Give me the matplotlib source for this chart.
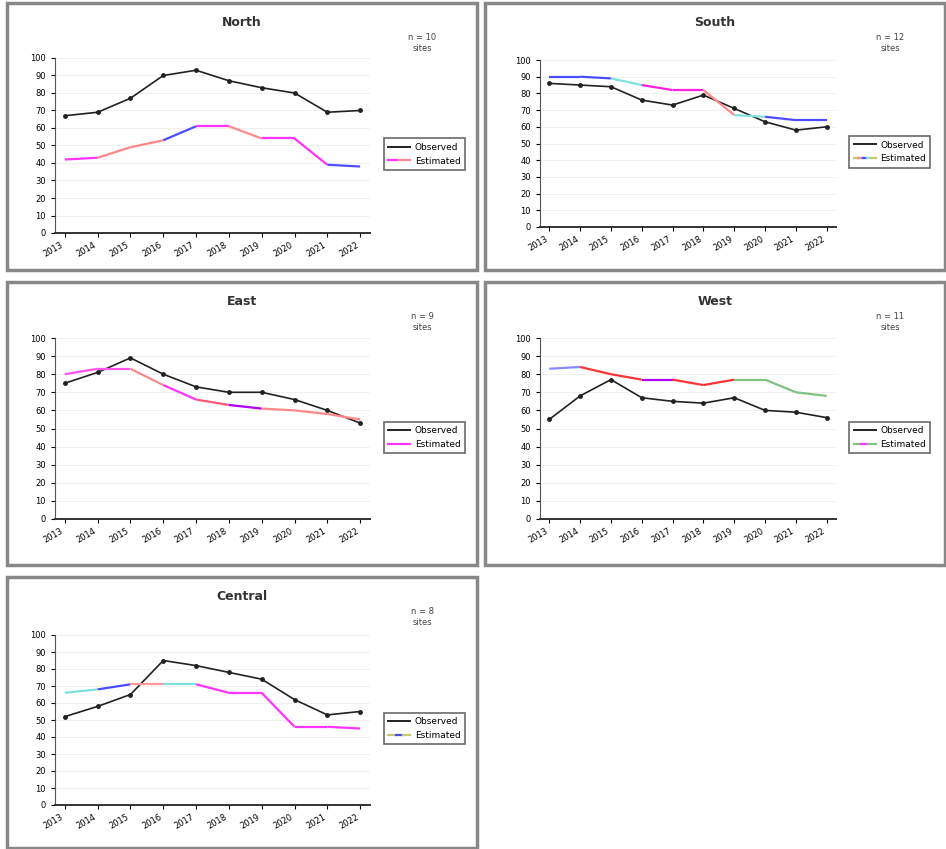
import numpy as np
import matplotlib
matplotlib.use("Agg")
import matplotlib.pyplot as plt
from matplotlib.lines import Line2D
from matplotlib.patches import Rectangle
from matplotlib.collections import LineCollection
from matplotlib.legend_handler import HandlerTuple

# ==============================
# DATA
# ==============================
x_labels = ["2013", "2014", "2015", "2016", "2017", "2018", "2019", "2020", "2021", "2022"]

titles = ["North", "South", "East", "West", "Central"]
notes = ["n = 10\nsites", "n = 12\nsites", "n = 9\nsites", "n = 11\nsites", "n = 8\nsites"]

black_1 = [67, 69, 77, 90, 93, 87, 83, 80, 69, 70]
black_2 = [86, 85, 84, 76, 73, 79, 71, 63, 58, 60]
black_3 = [75, 81, 89, 80, 73, 70, 70, 66, 60, 53]
black_4 = [55, 68, 77, 67, 65, 64, 67, 60, 59, 56]
black_5 = [52, 58, 65, 85, 82, 78, 74, 62, 53, 55]

color_1 = [42, 43, 49, 53, 61, 61, 54, 54, 39, 38]
color_2 = [90, 90, 89, 85, 82, 82, 67, 66, 64, 64]
color_3 = [80, 83, 83, 74, 66, 63, 61, 60, 58, 55]
color_4 = [83, 84, 80, 77, 77, 74, 77, 77, 70, 68]
color_5 = [66, 68, 71, 71, 71, 66, 66, 46, 46, 45]

# segment colours of the coloured series (one per segment)
seg_1 = ["#ff33ff", "#ff8888", "#ff8888", "#4d4dff", "#ff33ff", "#ff8888", "#ff33ff", "#ff33ff", "#4d4dff"]
seg_2 = ["#4d4dff", "#4d4dff", "#80e0e0", "#ff22dd", "#ff22dd", "#ff8888", "#80e0e0", "#4d4dff", "#4d4dff"]
seg_3 = ["#ff55ee", "#ff55ee", "#ff8888", "#ff33ff", "#ff5577", "#b000ff", "#ff8888", "#ff8888", "#ff8888"]
seg_4 = ["#8888ff", "#ff3333", "#ff3333", "#b000ff", "#ff3333", "#ff3333", "#80c080", "#80c080", "#80c080"]
seg_5 = ["#80e0e0", "#4d4dff", "#ff9999", "#80e0e0", "#ff33ff", "#ff33ff", "#ff33ff", "#ff33ff", "#ff33ff"]

legend_cols_1 = ["#ff33ff", "#ff8888"]
legend_cols_2 = ["#c8c870", "#ff8888", "#4d4dff", "#80e0e0", "#c8c870"]
legend_cols_3 = ["#ff33ff"]
legend_cols_4 = ["#80c080", "#ff33ff", "#80c080"]
legend_cols_5 = ["#c8c870", "#4d4dff", "#c8c870"]

series_names = ["Observed", "Estimated"]

blacks = [black_1, black_2, black_3, black_4, black_5]
colored = [color_1, color_2, color_3, color_4, color_5]
segs = [seg_1, seg_2, seg_3, seg_4, seg_5]
leg_cols = [legend_cols_1, legend_cols_2, legend_cols_3, legend_cols_4, legend_cols_5]

# ==============================
# LAYOUT (pixels)
# ==============================
W, H = 946, 849
fig = plt.figure(figsize=(W / 100, H / 100), dpi=100)

panels = [(7, 3, 477, 270), (485, 3, 945, 270),
          (7, 282, 477, 565), (485, 282, 945, 565),
          (7, 577, 477, 848)]
axes_px = [(55, 58, 370, 233), (540, 60, 836, 227),
           (55, 338, 370, 519), (540, 338, 836, 519),
           (55, 635, 370, 805)]


def fx(px):
    return px / W


def fy(py):
    return 1 - py / H


for i in range(5):
    x0, y0, x1, y1 = panels[i]
    fig.patches.append(Rectangle((fx(x0), fy(y1)), fx(x1 - x0), (y1 - y0) / H,
                                 transform=fig.transFigure, fill=False,
                                 edgecolor="#888888", linewidth=2.5))
    fig.text(fx((x0 + x1) / 2), fy(y0 + 19), titles[i], ha="center", va="center",
             fontsize=9, fontweight="bold", color="#333333")
    fig.text(fx(x1 - 55), fy(y0 + 40), notes[i], ha="center", va="center",
             fontsize=6, color="#444444")

    ax0, ay0, ax1, ay1 = axes_px[i]
    ax = fig.add_axes([fx(ax0), fy(ay1), fx(ax1 - ax0), (ay1 - ay0) / H])
    xs = np.arange(len(x_labels))

    ax.plot(xs, blacks[i], color="#222222", linewidth=1.2, marker="o", markersize=2.5)
    pts = np.column_stack([xs, colored[i]])
    lc = LineCollection([pts[j:j + 2] for j in range(len(xs) - 1)],
                        colors=segs[i], linewidths=1.6)
    ax.add_collection(lc)

    ax.set_xlim(-0.3, len(xs) - 0.7)
    ax.set_ylim(0, 100)
    ax.set_yticks(np.arange(0, 101, 10))
    ax.set_xticks(xs)
    ax.set_xticklabels(x_labels, rotation=30, ha="right", fontsize=6)
    ax.tick_params(axis="y", labelsize=6, length=3)
    ax.tick_params(axis="x", length=3, pad=2)
    ax.grid(axis="y", color="#eeeeee", linewidth=0.6)
    ax.set_axisbelow(True)
    for s in ["top", "right"]:
        ax.spines[s].set_visible(False)
    ax.spines["left"].set_color("#555555")
    ax.spines["bottom"].set_color("#333333")
    ax.spines["bottom"].set_linewidth(1.4)

    h_black = Line2D([], [], color="#222222", linewidth=1.4)
    h_col = tuple(Line2D([], [], color=c, linewidth=1.6) for c in leg_cols[i])
    leg = ax.legend([h_black, h_col], series_names,
                    handler_map={tuple: HandlerTuple(ndivide=None, pad=0)},
                    loc="center left", bbox_to_anchor=(1.03, 0.45),
                    fontsize=6.5, frameon=True, fancybox=False,
                    handlelength=2.4, borderpad=0.5, handletextpad=0.5)
    leg.get_frame().set_edgecolor("#444444")
    leg.get_frame().set_linewidth(1.2)

fig.savefig("out.png", dpi=100)
